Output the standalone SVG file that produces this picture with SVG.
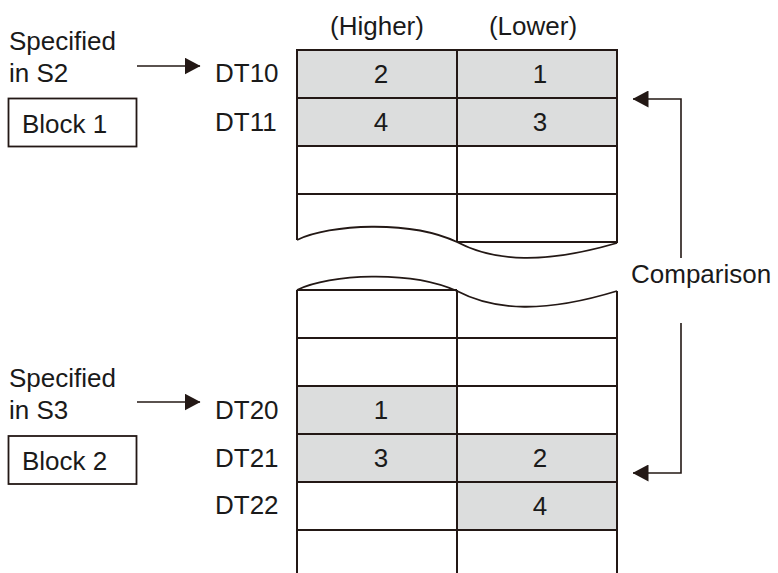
<svg xmlns="http://www.w3.org/2000/svg" width="778" height="573" viewBox="0 0 778 573">
<style>
text{font-family:"Liberation Sans",Arial,sans-serif;font-size:26px;fill:#1a1a1a}
.cell{fill:#dcdddd;stroke:none}
.ln{stroke:#231815;stroke-width:2;fill:none}
.wave{stroke:#231815;stroke-width:1.8;fill:none}
.con{stroke:#231815;stroke-width:1.6;fill:none}
.box{fill:#fff;stroke:#231815;stroke-width:1.8}
.mid{text-anchor:middle}
</style>
<defs>
<marker id="ah" viewBox="0 0 16 17" refX="15.5" refY="8.5" markerWidth="16" markerHeight="17" orient="auto" markerUnits="userSpaceOnUse">
<path d="M0,0 L16,8.5 L0,17 z" fill="#231815"/>
</marker>
</defs>
<rect width="778" height="573" fill="#fff"/>

<g id="table">
<rect class="cell" x="297" y="50" width="320" height="96"/>
<rect class="cell" x="297" y="386" width="160" height="48"/>
<rect class="cell" x="297" y="434" width="320" height="48"/>
<rect class="cell" x="457" y="482" width="160" height="48"/>
<line class="ln" x1="297" y1="50" x2="617" y2="50"/>
<line class="ln" x1="297" y1="98" x2="617" y2="98"/>
<line class="ln" x1="297" y1="146" x2="617" y2="146"/>
<line class="ln" x1="297" y1="194" x2="617" y2="194"/>
<line class="ln" x1="457" y1="242" x2="617" y2="242"/>
<line class="ln" x1="297" y1="49" x2="297" y2="240"/>
<line class="ln" x1="457" y1="49" x2="457" y2="242"/>
<line class="ln" x1="617" y1="49" x2="617" y2="243"/>
<path class="wave" d="M297,240 C330,224 410,220 457,242 C495,262 545,264 617,243"/>
<path class="wave" d="M297,290 C330,274 410,270 457,291 C495,311 545,313 617,291"/>
<line class="ln" x1="297" y1="290" x2="457" y2="290"/>
<line class="ln" x1="297" y1="338" x2="617" y2="338"/>
<line class="ln" x1="297" y1="386" x2="617" y2="386"/>
<line class="ln" x1="297" y1="434" x2="617" y2="434"/>
<line class="ln" x1="297" y1="482" x2="617" y2="482"/>
<line class="ln" x1="297" y1="530" x2="617" y2="530"/>
<line class="ln" x1="297" y1="290" x2="297" y2="573"/>
<line class="ln" x1="457" y1="290" x2="457" y2="573"/>
<line class="ln" x1="617" y1="291" x2="617" y2="573"/>
<text class="mid" x="377" y="35">(Higher)</text>
<text class="mid" x="533" y="35">(Lower)</text>
<text class="mid" x="381" y="83">2</text>
<text class="mid" x="540" y="83">1</text>
<text class="mid" x="381" y="131">4</text>
<text class="mid" x="540" y="131">3</text>
<text class="mid" x="381" y="419">1</text>
<text class="mid" x="381" y="467">3</text>
<text class="mid" x="540" y="467">2</text>
<text class="mid" x="540" y="515">4</text>
</g>

<g id="labels-dt">
<text x="215" y="82">DT10</text>
<text x="215" y="131">DT11</text>
<text x="215" y="419">DT20</text>
<text x="215" y="467">DT21</text>
<text x="215" y="514">DT22</text>
</g>

<g id="spec-s2">
<text x="9" y="50">Specified</text>
<text x="9" y="82">in S2</text>
</g>
<g id="block1">
<rect class="box" x="8.5" y="98.5" width="128" height="48"/>
<text x="22" y="133">Block 1</text>
</g>
<g id="spec-s3">
<text x="9" y="387">Specified</text>
<text x="9" y="419">in S3</text>
</g>
<g id="block2">
<rect class="box" x="8.5" y="436" width="128" height="48"/>
<text x="22" y="470">Block 2</text>
</g>
<g id="comparison">
<text x="631" y="283">Comparison</text>
</g>

<g id="connectors">
<line class="con" x1="137" y1="66" x2="200" y2="66" marker-end="url(#ah)"/>
<line class="con" x1="137" y1="402" x2="200" y2="402" marker-end="url(#ah)"/>
<path class="con" d="M681,258 V99 H633" marker-end="url(#ah)"/>
<path class="con" d="M681,323 V473 H633" marker-end="url(#ah)"/>
</g>
</svg>
